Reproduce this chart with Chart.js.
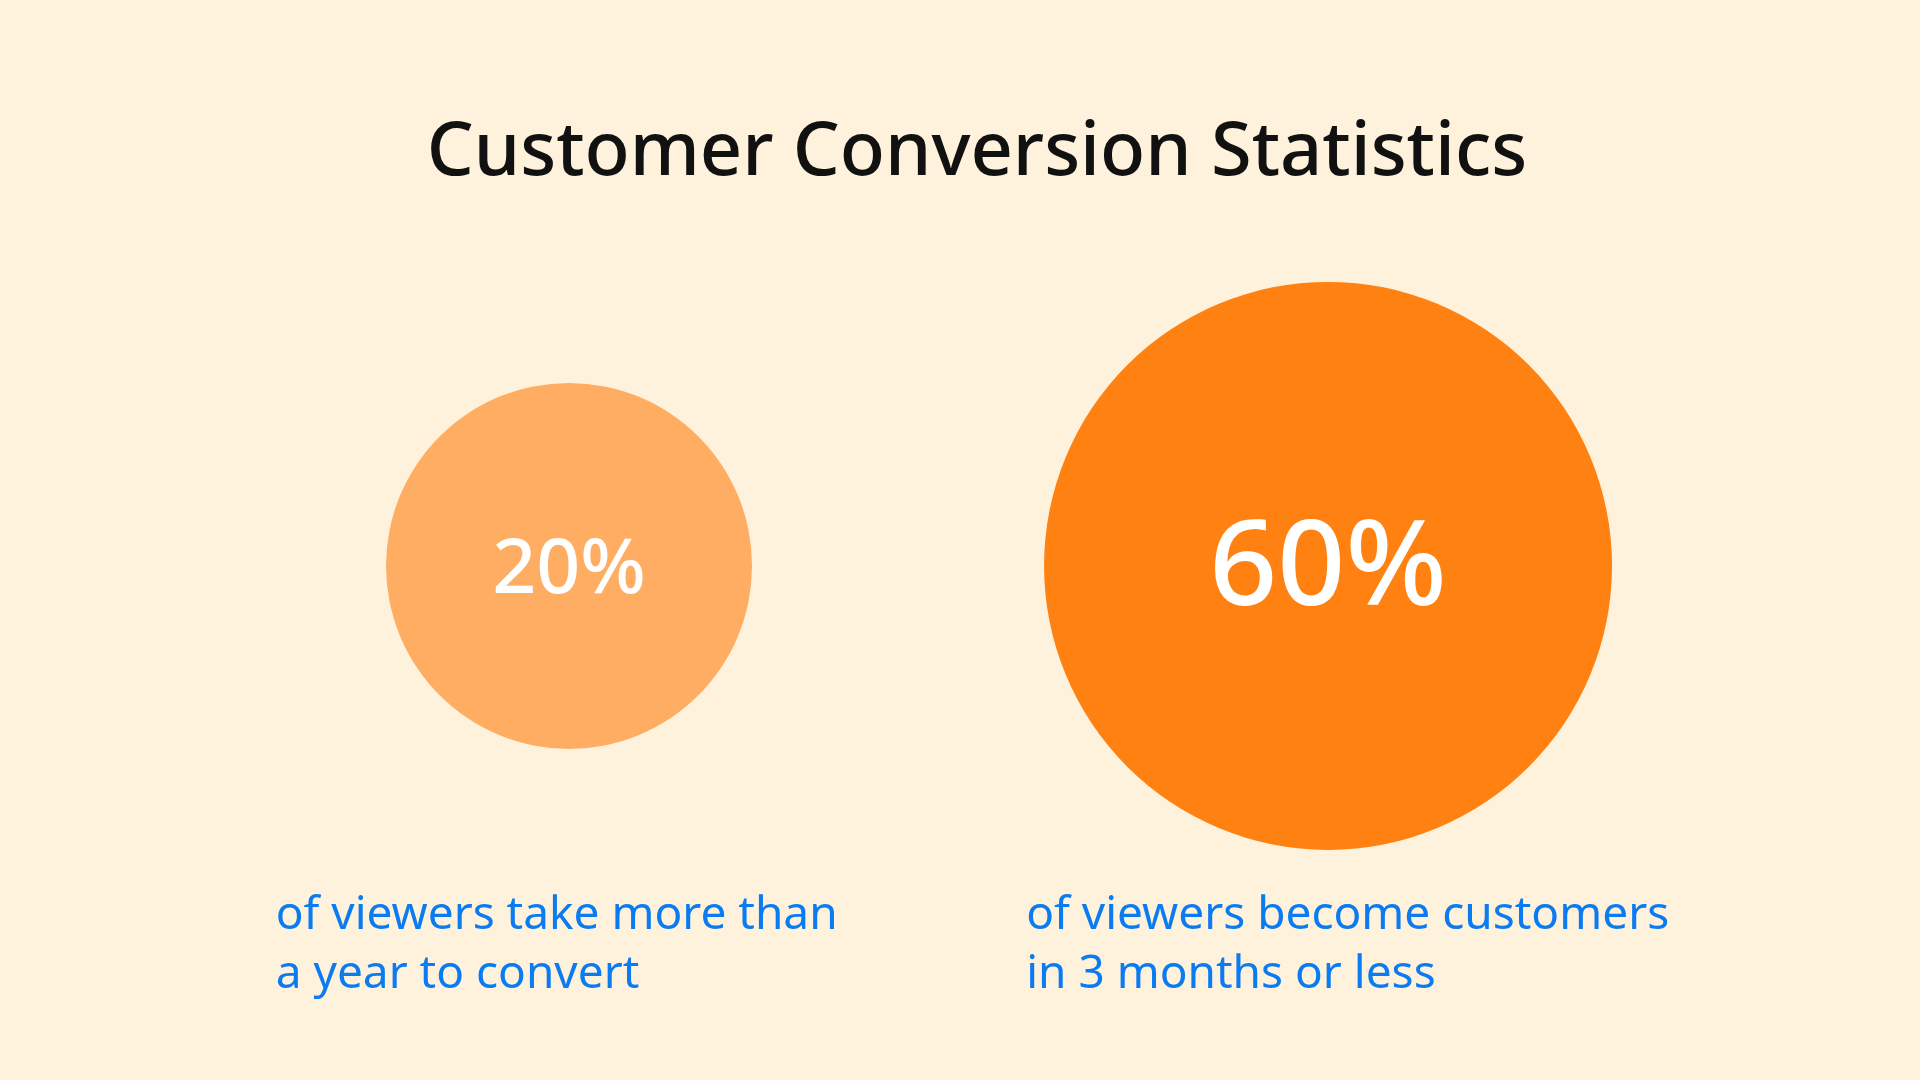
<!DOCTYPE html>
<html>
<head>
<meta charset="utf-8">
<script src="https://cdn.jsdelivr.net/npm/chart.js@4/dist/chart.umd.min.js"></script>
<style>
  html, body { margin: 0; padding: 0; background: #FFF2DC; }
  #wrap { width: 1920px; height: 1080px; }
</style>
</head>
<body>
<div id="wrap"><canvas id="c" width="1920" height="1080"></canvas></div>
<script>
const chartTitle = 'Customer Conversion Statistics';
const categories = ['Take more than a year', 'Convert in 3 months or less'];
const percentValues = [20, 60];
const descriptions = [
  ['of viewers take more than', 'a year to convert'],
  ['of viewers become customers', 'in 3 months or less']
];
const bubbleColors = ['#FFAD62', '#FF8111'];

const FONT = '"Noto Sans", "Open Sans", sans-serif';

const labelPlugin = {
  id: 'bubbleLabels',
  afterDatasetsDraw(chart) {
    const ctx = chart.ctx;
    const meta = chart.getDatasetMeta(0);
    ctx.save();
    meta.data.forEach((el, i) => {
      const r = el.options.radius;
      ctx.fillStyle = '#FFFFFF';
      ctx.textAlign = 'center';
      ctx.textBaseline = 'middle';
      ctx.font = '500 ' + Math.round(r * 0.42) + 'px ' + FONT;
      ctx.fillText(percentValues[i] + '%', el.x, el.y + 5);
      ctx.fillStyle = '#0A7BF0';
      ctx.textAlign = 'left';
      ctx.font = '400 46px ' + FONT;
      descriptions[i].forEach((line, j) => {
        ctx.fillText(line, el.x - (278 + 0.084 * r), 916 + j * 59);
      });
    });
    ctx.restore();
  }
};

new Chart(document.getElementById('c'), {
  type: 'bubble',
  data: {
    labels: categories,
    datasets: [{
      data: percentValues.map((v, i) => ({ x: i, y: 0, v: v })),
      backgroundColor: bubbleColors,
      borderWidth: 0,
      hoverBorderWidth: 0,
      radius: (ctx) => 183 * Math.pow(percentValues[ctx.dataIndex] / 20, 0.4),
      hoverRadius: 0
    }]
  },
  options: {
    responsive: false,
    animation: false,
    events: [],
    layout: { padding: { left: 34, right: 0, top: 0, bottom: 0 }, autoPadding: false },
    clip: false,
    scales: {
      x: { type: 'linear', display: false, min: -0.7049, max: 1.7799 },
      y: { type: 'linear', display: false, min: -1.412, max: 1 }
    },
    plugins: {
      legend: { display: false },
      tooltip: { enabled: false },
      title: {
        display: true,
        text: chartTitle,
        color: '#111111',
        font: { family: FONT, size: 74, weight: '500', lineHeight: 1.2 },
        padding: { top: 110, bottom: 3 }
      }
    }
  },
  plugins: [labelPlugin]
});
</script>
</body>
</html>
